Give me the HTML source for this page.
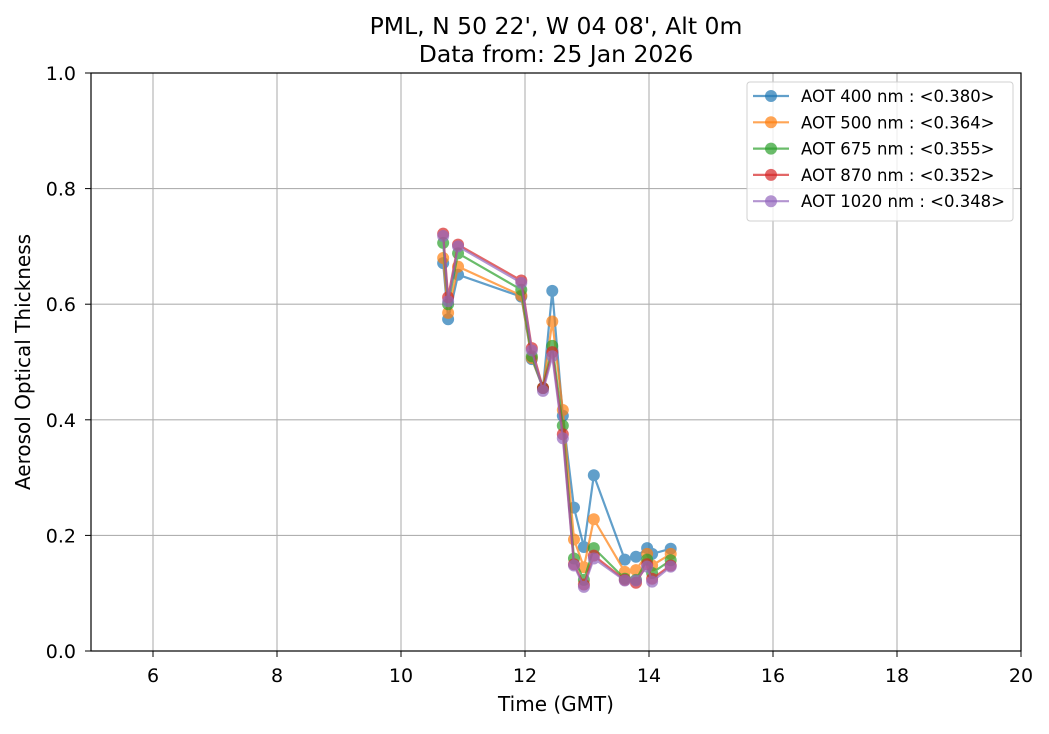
<!DOCTYPE html>
<html><head><meta charset="utf-8"><style>
body{margin:0;background:#fff;}
svg{font-family:"DejaVu Sans","Liberation Sans",sans-serif;}
</style></head><body>
<svg id="chart" width="1049" height="729" xmlns="http://www.w3.org/2000/svg">
<rect width="1049" height="729" fill="#fff"/>
<text x="556" y="34" text-anchor="middle" font-size="23.5">PML, N 50 22', W 04 08', Alt 0m</text>
<text x="556" y="62" text-anchor="middle" font-size="23.5">Data from: 25 Jan 2026</text>
<g id="grid"></g><g id="series"></g>
<rect x="91" y="73" width="930" height="578" fill="none" stroke="#000" stroke-width="1.2"/>
<g id="ticks"></g>
<text x="556" y="711" text-anchor="middle" font-size="20">Time (GMT)</text>
<text transform="translate(30,362) rotate(-90)" text-anchor="middle" font-size="20">Aerosol Optical Thickness</text>
<g id="legend"></g>
</svg>
<script>
const times=[10.68,10.76,10.92,11.94,12.11,12.29,12.44,12.61,12.79,12.95,13.11,13.61,13.79,13.97,14.05,14.35];
const aot400=[0.671,0.574,0.651,0.613,0.505,0.455,0.623,0.407,0.248,0.180,0.304,0.158,0.163,0.178,0.168,0.177];
const aot500=[0.680,0.585,0.665,0.615,0.507,0.455,0.570,0.417,0.193,0.145,0.228,0.137,0.140,0.168,0.148,0.168];
const aot675=[0.706,0.600,0.688,0.625,0.510,0.455,0.528,0.390,0.160,0.123,0.178,0.125,0.123,0.158,0.135,0.157];
const aot870=[0.722,0.612,0.703,0.641,0.524,0.455,0.517,0.375,0.150,0.115,0.165,0.123,0.118,0.150,0.125,0.148];
const aot1020=[0.718,0.605,0.700,0.637,0.520,0.450,0.510,0.368,0.148,0.111,0.160,0.122,0.122,0.146,0.120,0.146];
const seriesLabels=["AOT 400 nm : <0.380>","AOT 500 nm : <0.364>","AOT 675 nm : <0.355>","AOT 870 nm : <0.352>","AOT 1020 nm : <0.348>"];
const xTicks=[6,8,10,12,14,16,18,20];
const yTicks=[0,0.2,0.4,0.6,0.8,1.0];
const colors=["#1f77b4","#ff7f0e","#2ca02c","#d62728","#9467bd"];
const allSeries=[aot400,aot500,aot675,aot870,aot1020];
const NS="http://www.w3.org/2000/svg";
const X=t=>91+(t-5)*62, Y=v=>651-v*578;
function mk(tag,attrs,parent){const e=document.createElementNS(NS,tag);for(const k in attrs)e.setAttribute(k,attrs[k]);parent.appendChild(e);return e;}
const grid=document.getElementById('grid'),ticks=document.getElementById('ticks'),ser=document.getElementById('series'),leg=document.getElementById('legend');
xTicks.forEach(t=>{
 const g=mk('line',{x1:X(t),x2:X(t),y1:73,y2:651,stroke:'#b0b0b0','stroke-width':1.1},grid);
 
 
 mk('line',{x1:X(t),x2:X(t),y1:651,y2:657,stroke:'#000'},ticks);
 const l=mk('text',{x:X(t),y:682,'text-anchor':'middle','font-size':19},ticks);l.textContent=t;
 
 
});
yTicks.forEach(v=>{
 const g=mk('line',{x1:91,x2:1021,y1:Y(v),y2:Y(v),stroke:'#b0b0b0','stroke-width':1.1},grid);
 
 
 mk('line',{x1:85,x2:91,y1:Y(v),y2:Y(v),stroke:'#000'},ticks);
 const l=mk('text',{x:76,y:Y(v)+7,'text-anchor':'end','font-size':19},ticks);l.textContent=v.toFixed(1);
 
 
});
allSeries.forEach((vals,i)=>{
 const g=mk('g',{opacity:0.7},ser);
 
 
 mk('polyline',{points:vals.map((v,j)=>X(times[j])+','+Y(v)).join(' '),fill:'none',stroke:colors[i],'stroke-width':2.2},g);
 vals.forEach((v,j)=>{const c=mk('circle',{cx:X(times[j]),cy:Y(v),r:6,fill:colors[i]},g);
  
  });
});
mk('rect',{x:747,y:82,width:266,height:139,rx:3,fill:'#fff','fill-opacity':0.8,stroke:'#d0d0d0'},leg);
seriesLabels.forEach((s,i)=>{
 const y=96+i*26.3;
 const g=mk('g',{},leg);
 
 
 mk('line',{x1:753,x2:789,y1:y,y2:y,stroke:colors[i],'stroke-width':2.2,opacity:0.7},g);
 mk('circle',{cx:771,cy:y,r:6,fill:colors[i],opacity:0.7},g);
 const t=mk('text',{x:801,y:y+6,'font-size':16.5},g);t.textContent=s;
});
</script>
</body></html>
